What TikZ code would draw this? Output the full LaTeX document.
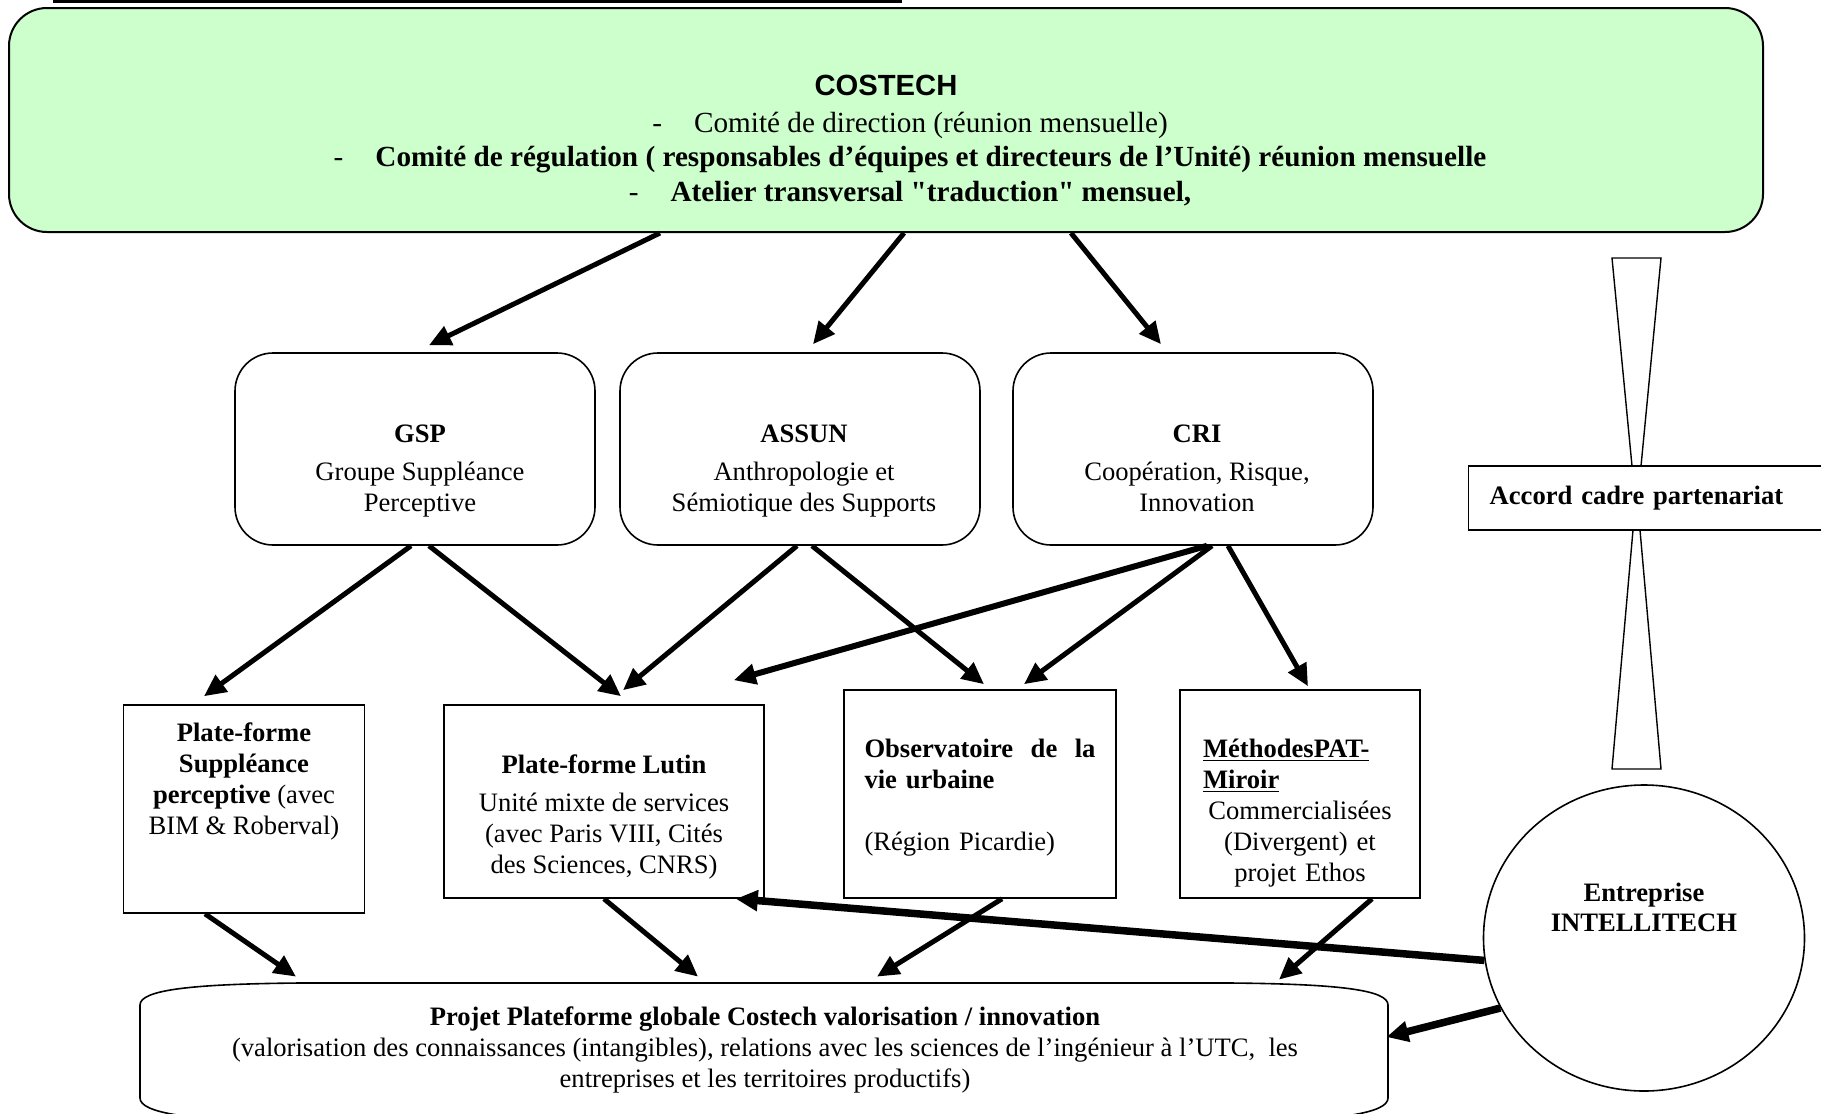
\documentclass[tikz,border=0pt]{standalone}
\usepackage{fontspec}
\setmainfont{Liberation Serif}
\setsansfont{Liberation Sans}
\usetikzlibrary{positioning,arrows.meta,shapes.geometric}
\definecolor{costechgreen}{HTML}{CCFFCC}

\begin{document}
\begin{tikzpicture}[x=0.5pt,y=-0.5pt,on grid,
    every node/.style={font=\fontsize{13.3}{15.5}\selectfont},
    textdrop/.style={text height=0pt,text depth=#1},
    unit/.style={draw,line width=1pt,rounded corners=19pt,fill=costechgreen,
      minimum width=877pt,minimum height=112pt,font=\fontsize{14.6}{17.3}\selectfont},
    team/.style={draw,line width=0.8pt,rounded corners=19pt,minimum width=180pt,minimum height=96pt},
    platform/.style={draw,line width=0.8pt},
    link/.style={line width=2.5pt,-{Triangle[length=11pt,width=10pt]}},
    heavylink/.style={link,line width=3.75pt}]
   \useasboundingbox (0,0) rectangle (1821,1114);
   \draw[line width=1.5pt] (53,1.5) -- (902,1.5);

   \node[unit,textdrop=24.5pt] (costech) at (886,120) {\begin{tabular}[t]{c}
    {\sffamily\bfseries COSTECH}\\[1pt]
    \hspace*{24pt}-\hspace{1.1em}Comité de direction (réunion mensuelle)\\
    \hspace*{24pt}-\hspace{1.1em}\textbf{Comité de régulation ( responsables d’équipes et directeurs de l’Unité) réunion mensuelle}\\
    \hspace*{24pt}-\hspace{1.1em}\textbf{Atelier transversal \textquotedbl traduction\textquotedbl\ mensuel,}
    \end{tabular}};

   \node[team,textdrop=7pt] (gsp) [below left=164.5pt and 235.5pt of costech] {\begin{tabular}[t]{@{\hspace{11pt}}c@{\hspace{6pt}}}
    \textbf{GSP}\\[3.5pt]
    Groupe Suppléance\\
    Perceptive
    \end{tabular}};
   \node[team,textdrop=7pt] (assun) [right=192.5pt of gsp] {\begin{tabular}[t]{@{\hspace{10pt}}c@{\hspace{6pt}}}
    \textbf{ASSUN}\\[3.5pt]
    Anthropologie et\\
    Sémiotique des Supports
    \end{tabular}};
   \node[team,textdrop=7pt] (cri) [right=196.5pt of assun] {\begin{tabular}[t]{@{\hspace{10pt}}c@{\hspace{6pt}}}
    \textbf{CRI}\\[3.5pt]
    Coopération, Risque,\\
    Innovation
    \end{tabular}};

   \node[platform,textdrop=68pt,minimum width=120.5pt,minimum height=104pt] (pfs)
     [below left=180pt and 85.5pt of gsp] {\begin{tabular}[t]{c}
    \textbf{Plate-forme}\\
    \textbf{Suppléance}\\
    \textbf{perceptive} (avec\\
    BIM \& Roberval)
    \end{tabular}};
   \node[platform,textdrop=28.5pt,minimum width=160pt,minimum height=96.5pt] (lutin)
     [below right=176.25pt and 94.5pt of gsp] {\begin{tabular}[t]{c}
    \textbf{Plate-forme Lutin}\\[3.5pt]
    Unité mixte de services\\
    (avec Paris VIII, Cités\\
    des Sciences, CNRS)
    \end{tabular}};
   \node[platform,textdrop=37pt,minimum width=136pt,minimum height=104pt,text width=115.5pt] (obs)
     [below right=172.5pt and 90pt of assun] {\textbf{Observatoire\hfill de\hfill la}\\
    \textbf{vie urbaine}\\[15.5pt]
    (Région Picardie)};
   \node[platform,textdrop=37pt,minimum width=120pt,minimum height=104pt,text width=97pt] (meth)
     [right=160pt of obs] {\underline{\textbf{MéthodesPAT-}}\par
    \underline{\textbf{Miroir}}\par
    \centering Commercialisées\\
    (Divergent) et\\
    projet Ethos\par};

   \node[textdrop=28pt,minimum width=625pt,minimum height=71pt] (projet) at (765,1053) {\begin{tabular}[t]{c}
    \textbf{Projet Plateforme globale Costech valorisation / innovation}\\
    (valorisation des connaissances (intangibles), relations avec les sciences de l’ingénieur à l’UTC,\ \ les\\
    entreprises et les territoires productifs)
    \end{tabular}};
   % outline of the projet
   \draw[line width=0.8pt] (140,1005) .. controls (140,990) and (190,984) .. (300,983)
     -- (1230,983) .. controls (1340,984) and (1388,990) .. (1388,1005)
     -- (1388,1098) .. controls (1388,1113) and (1340,1121) .. (1230,1122)
     -- (300,1122) .. controls (190,1121) and (140,1113) .. (140,1098) -- cycle;

   % partnership hourglass
   \draw[line width=0.7pt] (1612,258) -- (1661,258) -- (1641,466) -- (1632,466) -- cycle;
   \draw[line width=0.7pt] (1633,530) -- (1640,530) -- (1661,769) -- (1612,769) -- cycle;
   \node[draw,line width=0.7pt,anchor=west,text width=165pt,inner xsep=10.5pt,minimum height=32pt,
     align=left,font=\fontsize{13.3}{15.5}\selectfont\bfseries] (accord) at (1468,498) {Accord cadre partenariat};

   \node[ellipse,draw,line width=0.8pt,inner sep=0pt,minimum width=160.5pt,minimum height=153pt,
     textdrop=37pt,font=\fontsize{13.3}{15}\selectfont\bfseries] (intel) at (1644,938) {\begin{tabular}[t]{c}
    Entreprise\\
    INTELLITECH
    \end{tabular}};

   \path[link]
    ([xshift=-113pt]costech.south) edge ([xshift=7pt,yshift=3.5pt]gsp.north)
    ([xshift=9pt]costech.south) edge ([xshift=6.5pt,yshift=4pt]assun.north)
    ([xshift=92.5pt]costech.south) edge ([xshift=-16pt,yshift=4pt]cri.north)
    ([xshift=-2pt]gsp.south) edge ([xshift=-20pt,yshift=4pt]pfs.north)
    ([xshift=7pt]gsp.south) edge ([xshift=8.5pt,yshift=4pt]lutin.north)
    ([xshift=-1.5pt]assun.south) edge ([xshift=9.5pt,yshift=7pt]lutin.north)
    ([xshift=6pt]assun.south) edge ([xshift=2pt,yshift=2.5pt]obs.north)
    ([xshift=9.5pt]cri.south) edge ([xshift=22pt,yshift=2.5pt]obs.north)
    ([xshift=17.5pt]cri.south) edge ([xshift=4pt,yshift=1.5pt]meth.north)
    ([xshift=-19.5pt]pfs.south) edge ([xshift=-234.5pt,yshift=2.5pt]projet.north)
    (lutin.south) edge ([xshift=-33.5pt,yshift=2.5pt]projet.north)
    ([xshift=11pt]obs.south) edge ([xshift=56pt,yshift=2.5pt]projet.north)
    ([xshift=36pt]meth.south) edge ([xshift=257pt,yshift=1pt]projet.north);
   \draw[link,line width=3pt] ([xshift=7pt]cri.south) -- ([xshift=-15.5pt,yshift=12pt]lutin.north east);
   \path[heavylink]
    (intel.188) edge ([xshift=-14.5pt]lutin.south east)
    (intel.206) edge ([xshift=-2pt,yshift=8pt]projet.east);
\end{tikzpicture}
\end{document}
